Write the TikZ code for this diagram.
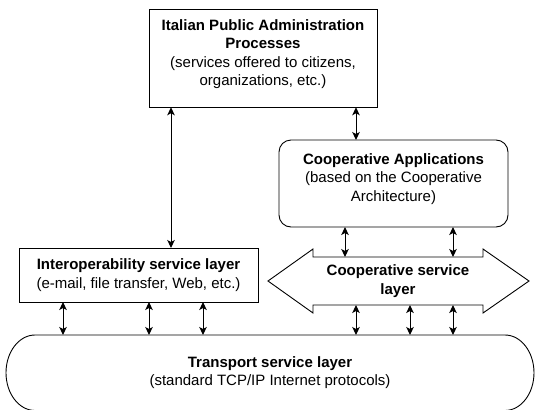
\documentclass[tikz,border=0pt]{standalone}
\usepackage{fontspec}
\setmainfont{Liberation Sans}
\usetikzlibrary{arrows.meta}
\begin{document}
\begin{tikzpicture}[x=1pt,y=-1pt,
  every node/.style={font=\fontsize{15}{18.5}\selectfont, align=center, inner sep=0pt, outer sep=0pt},
  boxed/.style={draw, line width=0.9pt, rectangle},
  roundbox/.style={draw, line width=0.9pt, rectangle, rounded corners=12pt},
  plain/.style={draw=none},
  tip/.tip={Stealth[length=8pt,width=7.5pt,inset=2pt]},
  link/.style={line width=1pt, tip-tip},
  outline/.style={line width=0.9pt}]
  \useasboundingbox (0,0) rectangle (536,410);

  % process box at the top
  \node[boxed, minimum width=228pt, minimum height=97.5pt] (pa) at (263,58.5) {};
  \node (patext) at (263,54) {\textbf{Italian Public Administration}\\\textbf{Processes}\\(services offered to citizens,\\organizations, etc.)};

  % cooperative applications
  \node[roundbox, minimum width=229pt, minimum height=87pt] (ca) at (393.5,183.5) {};
  \node (catext) at (393.5,179) {\textbf{Cooperative Applications}\\(based on the Cooperative\\Architecture)};

  % interoperability layer
  \node[boxed, minimum width=239pt, minimum height=54pt] (io) at (138.5,275) {\textbf{Interoperability service layer}\\(e-mail, file transfer, Web, etc.)};

  % cooperative service layer: double-headed block arrow
  \node[plain, minimum width=170pt, minimum height=48pt] (cs) at (398,281) {\textbf{Cooperative service}\\\textbf{layer}};
  \draw[outline] (268,281) -- (313,249) -- (313,257) -- (483,257) -- (483,249) -- (529,281)
    -- (483,313) -- (483,305) -- (313,305) -- (313,313) -- cycle;

  % transport layer, rounded ends
  \node[plain, minimum width=470pt, minimum height=75pt] (tr) at (270,372.5) {\textbf{Transport service layer}\\(standard TCP/IP Internet protocols)};
  \draw[outline] (35,335) -- (505,335) arc[start angle=-90, end angle=90, x radius=29, y radius=37.75]
    -- (35,410.5) arc[start angle=90, end angle=270, x radius=29, y radius=37.75];

  % x positions of the connectors
  \coordinate (xa) at (171,0);
  \coordinate (xb) at (356,0);
  \coordinate (xc) at (345,0);
  \coordinate (xd) at (453,0);
  \coordinate (xe) at (410,0);
  \coordinate (xf) at (63,0);
  \coordinate (xg) at (149,0);
  \coordinate (xh) at (203,0);

  \draw[link] (xa |- pa.south) -- (xa |- io.north);
  \draw[link] (xb |- pa.south) -- (xb |- ca.north);
  \draw[link] (xc |- ca.south) -- (xc |- cs.north);
  \draw[link] (xd |- ca.south) -- (xd |- cs.north);
  \draw[link] (xb |- cs.south) -- (xb |- tr.north);
  \draw[link] (xe |- cs.south) -- (xe |- tr.north);
  \draw[link] (xd |- cs.south) -- (xd |- tr.north);
  \draw[link] (xf |- io.south) -- (xf |- tr.north);
  \draw[link] (xg |- io.south) -- (xg |- tr.north);
  \draw[link] (xh |- io.south) -- (xh |- tr.north);
\end{tikzpicture}
\end{document}
